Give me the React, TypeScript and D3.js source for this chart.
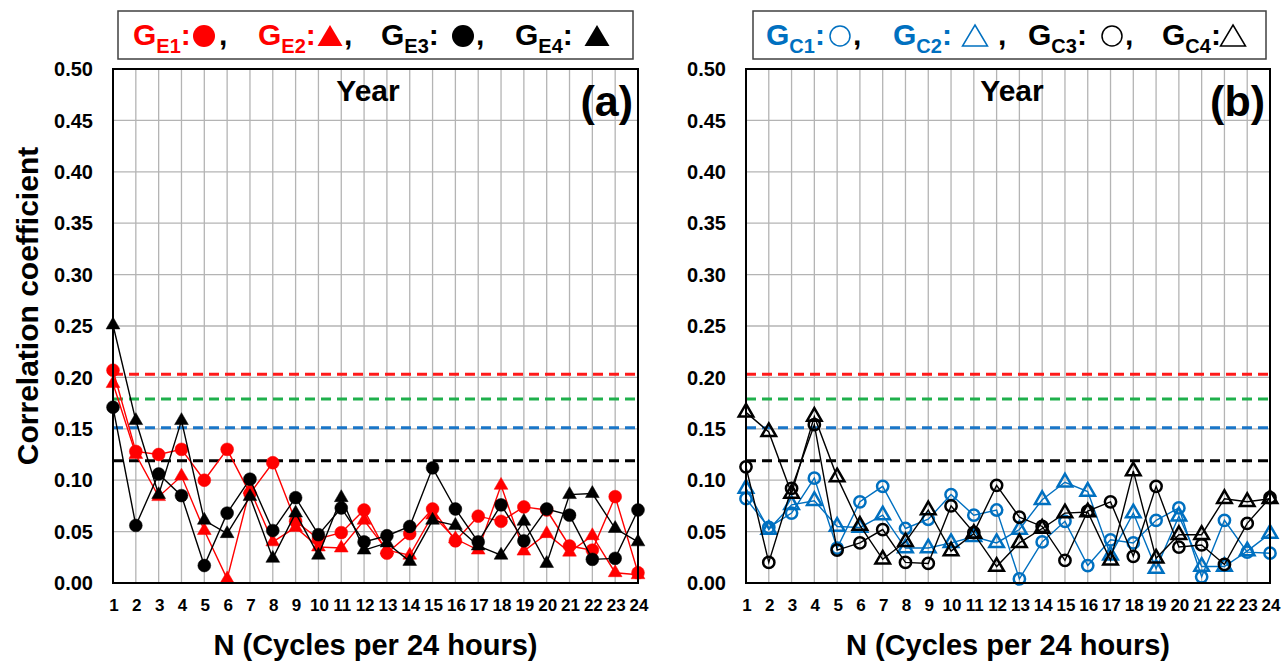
import React from "react";
import * as d3 from "d3";

// Harmonic number N (cycles per 24 hours)
const N_CYCLES = [1, 2, 3, 4, 5, 6, 7, 8, 9, 10, 11, 12, 13, 14, 15, 16, 17, 18, 19, 20, 21, 22, 23, 24];
const Y_TICKS = [0, 0.05, 0.1, 0.15, 0.2, 0.25, 0.3, 0.35, 0.4, 0.45, 0.5];

// Significance thresholds (red, green, blue, black dashed lines)
const THRESHOLDS = [0.203, 0.179, 0.151, 0.119];
const THRESHOLD_COLORS = ["#ff1a1a", "#1fb04c", "#1a76c8", "#000000"];

// Panel (a): G_E groups
const GE1 = [0.207, 0.128, 0.125, 0.130, 0.100, 0.130, 0.087, 0.117, 0.060, 0.043, 0.049, 0.071, 0.029, 0.048, 0.072, 0.041, 0.065, 0.060, 0.074, 0.071, 0.036, 0.032, 0.084, 0.010];
const GE2 = [0.194, 0.125, 0.084, 0.104, 0.051, 0.004, 0.091, 0.040, 0.054, 0.035, 0.034, 0.061, 0.032, 0.027, 0.066, 0.043, 0.032, 0.095, 0.031, 0.048, 0.030, 0.046, 0.010, 0.008];
const GE3 = [0.171, 0.056, 0.106, 0.085, 0.017, 0.068, 0.101, 0.051, 0.083, 0.047, 0.073, 0.040, 0.046, 0.055, 0.112, 0.072, 0.040, 0.076, 0.041, 0.072, 0.066, 0.023, 0.024, 0.071];
const GE4 = [0.251, 0.158, 0.086, 0.158, 0.061, 0.048, 0.084, 0.024, 0.068, 0.027, 0.083, 0.032, 0.039, 0.021, 0.061, 0.056, 0.036, 0.027, 0.060, 0.019, 0.086, 0.087, 0.053, 0.040];

// Panel (b): G_C groups
const GC1 = [0.082, 0.054, 0.068, 0.102, 0.034, 0.079, 0.094, 0.053, 0.062, 0.086, 0.066, 0.071, 0.004, 0.040, 0.060, 0.017, 0.042, 0.039, 0.061, 0.073, 0.006, 0.061, 0.030, 0.029];
const GC2 = [0.092, 0.052, 0.076, 0.080, 0.055, 0.054, 0.066, 0.034, 0.034, 0.039, 0.045, 0.039, 0.052, 0.081, 0.098, 0.089, 0.027, 0.068, 0.014, 0.065, 0.016, 0.016, 0.031, 0.048];
const GC3 = [0.113, 0.020, 0.092, 0.154, 0.032, 0.039, 0.052, 0.020, 0.019, 0.075, 0.049, 0.095, 0.064, 0.055, 0.022, 0.070, 0.079, 0.026, 0.094, 0.035, 0.037, 0.018, 0.058, 0.083];
const GC4 = [0.166, 0.147, 0.087, 0.162, 0.103, 0.056, 0.023, 0.040, 0.071, 0.031, 0.048, 0.016, 0.039, 0.053, 0.068, 0.069, 0.022, 0.109, 0.024, 0.047, 0.047, 0.082, 0.079, 0.082];

const RED = "#ff0000";
const BLUE = "#0070c0";
const BLACK = "#000000";
const FONT = "'Liberation Sans', Arial, Helvetica, sans-serif";

type Series = { values: number[]; color: string; shape: "circle" | "triangle"; filled: boolean };

const TOP = 69;
const BOTTOM = 583;
const yScale = d3.scaleLinear().domain([0, 0.5]).range([BOTTOM, TOP]);

function markerPath(shape: "circle" | "triangle", filled: boolean) {
  if (shape === "circle") return d3.symbol(d3.symbolCircle, filled ? 130 : 100)()!;
  return d3.symbol(d3.symbolTriangle, filled ? 82 : 92)()!;
}

function Panel({ x0, x1, series, tag, titleX }: { x0: number; x1: number; series: Series[]; tag: string; titleX: number }) {
  const x = d3.scalePoint<number>().domain(N_CYCLES).range([x0, x1]);
  const line = d3
    .line<number>()
    .x((_, i) => x(N_CYCLES[i])!)
    .y((v) => yScale(v));
  const cx = (x0 + x1) / 2;
  return (
    <g>
      {/* grid */}
      {N_CYCLES.map((n) => (
        <line key={"v" + n} x1={x(n)} x2={x(n)} y1={TOP} y2={BOTTOM} stroke="#b4b4b4" strokeWidth={1.3} />
      ))}
      {Y_TICKS.map((t) => (
        <line key={"h" + t} x1={x0} x2={x1} y1={yScale(t)} y2={yScale(t)} stroke="#b4b4b4" strokeWidth={1.3} />
      ))}
      {/* threshold lines */}
      {THRESHOLDS.map((t, i) => (
        <line
          key={"t" + i}
          x1={x0}
          x2={x1}
          y1={yScale(t)}
          y2={yScale(t)}
          stroke={THRESHOLD_COLORS[i]}
          strokeWidth={3}
          strokeDasharray="10 6"
        />
      ))}
      {/* series */}
      {series.map((s, si) => (
        <g key={"s" + si}>
          <path d={line(s.values)!} fill="none" stroke={s.color} strokeWidth={1.4} />
          {s.values.map((v, i) => (
            <path
              key={i}
              d={markerPath(s.shape, s.filled)}
              transform={`translate(${x(N_CYCLES[i])},${yScale(v)})`}
              fill={s.filled ? s.color : "none"}
              stroke={s.color}
              strokeWidth={s.filled ? 0.5 : 2.5}
            />
          ))}
        </g>
      ))}
      {/* frame */}
      <rect x={x0} y={TOP} width={x1 - x0} height={BOTTOM - TOP} fill="none" stroke="#000" strokeWidth={2} />
      {/* y tick labels */}
      {Y_TICKS.map((t) => (
        <text
          key={"yl" + t}
          x={x0 - 20}
          y={yScale(t)}
          dy="0.36em"
          textAnchor="end"
          fontFamily={FONT}
          fontWeight="bold"
          fontSize={20}
        >
          {t.toFixed(2)}
        </text>
      ))}
      {/* x tick labels */}
      {N_CYCLES.map((n) => (
        <text key={"xl" + n} x={x(n)! + 1} y={611} textAnchor="middle" fontFamily={FONT} fontWeight="bold" fontSize={17}>
          {n}
        </text>
      ))}
      <text x={cx} y={655} textAnchor="middle" fontFamily={FONT} fontWeight="bold" fontSize={29}>
        N (Cycles per 24 hours)
      </text>
      <text x={titleX} y={101} textAnchor="middle" fontFamily={FONT} fontWeight="bold" fontSize={30}>
        Year
      </text>
      <text x={x1 - 5} y={116} textAnchor="end" fontFamily={FONT} fontWeight="bold" fontSize={43}>
        {tag}
      </text>
    </g>
  );
}

type LegendItem = { x: number; sub: string; color: string; shape: "circle" | "triangle"; filled: boolean; mx: number; comma?: number };

function Legend({ x, w, items }: { x: number; w: number; items: LegendItem[] }) {
  return (
    <g>
      <rect x={x} y={11} width={w} height={48} fill="#fff" stroke="#404040" strokeWidth={1.5} />
      {items.map((it, i) => {
        const tri = "M0,-11L12.5,10L-12.5,10Z";
        return (
          <g key={i}>
            <text x={it.x} y={45} fontFamily={FONT} fontWeight="bold" fontSize={30} fill={it.color}>
              G
              <tspan fontSize={20} dy={8}>
                {it.sub}
              </tspan>
              <tspan dy={-8}>:</tspan>
            </text>
            {it.shape === "circle" ? (
              <circle
                cx={it.mx}
                cy={36}
                r={it.filled ? 11 : 10}
                fill={it.filled ? it.color : "none"}
                stroke={it.color}
                strokeWidth={it.filled ? 0 : 1.5}
              />
            ) : (
              <path
                d={tri}
                transform={`translate(${it.mx},${36})`}
                fill={it.filled ? it.color : "none"}
                stroke={it.color}
                strokeWidth={it.filled ? 0 : 1.5}
              />
            )}
            {it.comma !== undefined && (
              <text x={it.comma} y={45} fontFamily={FONT} fontWeight="bold" fontSize={30} fill="#000">
                ,
              </text>
            )}
          </g>
        );
      })}
    </g>
  );
}

export default function App() {
  const seriesA: Series[] = [
    { values: GE1, color: RED, shape: "circle", filled: true },
    { values: GE2, color: RED, shape: "triangle", filled: true },
    { values: GE3, color: BLACK, shape: "circle", filled: true },
    { values: GE4, color: BLACK, shape: "triangle", filled: true },
  ];
  const seriesB: Series[] = [
    { values: GC1, color: BLUE, shape: "circle", filled: false },
    { values: GC2, color: BLUE, shape: "triangle", filled: false },
    { values: GC3, color: BLACK, shape: "circle", filled: false },
    { values: GC4, color: BLACK, shape: "triangle", filled: false },
  ];
  const legendA: LegendItem[] = [
    { x: 133, sub: "E1", color: RED, shape: "circle", filled: true, mx: 204, comma: 219 },
    { x: 258, sub: "E2", color: RED, shape: "triangle", filled: true, mx: 330, comma: 344 },
    { x: 381, sub: "E3", color: BLACK, shape: "circle", filled: true, mx: 463, comma: 476 },
    { x: 515, sub: "E4", color: BLACK, shape: "triangle", filled: true, mx: 597 },
  ];
  const legendB: LegendItem[] = [
    { x: 766, sub: "C1", color: BLUE, shape: "circle", filled: false, mx: 840, comma: 853 },
    { x: 893, sub: "C2", color: BLUE, shape: "triangle", filled: false, mx: 975, comma: 998 },
    { x: 1028, sub: "C3", color: BLACK, shape: "circle", filled: false, mx: 1112, comma: 1125 },
    { x: 1162, sub: "C4", color: BLACK, shape: "triangle", filled: false, mx: 1233 },
  ];
  return (
    <svg
      width={1287}
      height={665}
      style={{ position: "absolute", left: 0, top: 0, background: "#fff" }}
      xmlns="http://www.w3.org/2000/svg"
    >
      <rect width={1287} height={665} fill="#fff" />
      <Panel x0={113} x1={638} series={seriesA} tag="(a)" titleX={368} />
      <Panel x0={746} x1={1270} series={seriesB} tag="(b)" titleX={1012} />
      <Legend x={118} w={515} items={legendA} />
      <Legend x={753} w={513} items={legendB} />
      <text
        transform="translate(38,306) rotate(-90)"
        textAnchor="middle"
        fontFamily={FONT}
        fontWeight="bold"
        fontSize={30}
      >
        Correlation coefficient
      </text>
    </svg>
  );
}
